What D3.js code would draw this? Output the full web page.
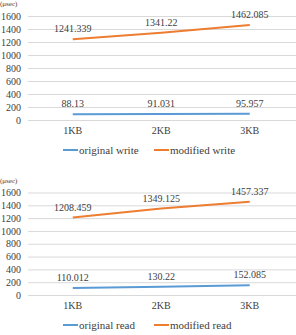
<!DOCTYPE html>
<html>
<head>
<meta charset="utf-8">
<script src="https://cdn.jsdelivr.net/npm/d3@7"></script>
<style>
  body { margin: 0; background: #fff; }
  svg { display: block; }
  text { font-family: 'Liberation Serif', 'Times New Roman', 'DejaVu Serif', serif !important; }
  .tick line { stroke: #d9d9d9; }
  .domain { display: none; }
  .tick text { fill: #404040; }
</style>
</head>
<body>
<div id="chart"></div>
<script>
// Data
const sizes = ["1KB", "2KB", "3KB"];
const yTicks = [0, 200, 400, 600, 800, 1000, 1200, 1400, 1600];
const originalWrite = [88.13, 91.031, 95.957];
const modifiedWrite = [1241.339, 1341.22, 1462.085];
const originalRead = [110.012, 130.22, 152.085];
const modifiedRead = [1208.459, 1349.125, 1457.337];
const unitLabel = "(μsec)";

const panels = [
  { top: 0, yTop: 16, yBottom: 120, names: ["original write", "modified write"], series: [originalWrite, modifiedWrite] },
  { top: 175, yTop: 17.5, yBottom: 120, names: ["original read", "modified read"], series: [originalRead, modifiedRead] },
];
const colors = ["#5b9bd5", "#ed7d31"];

const width = 296, height = 335;
const svg = d3.select("#chart").append("svg").attr("width", width).attr("height", height);

panels.forEach((p) => {
  const g = svg.append("g").attr("transform", `translate(0,${p.top})`);

  const xScale = d3.scaleBand().domain(sizes).range([28.5, 294]);
  const yScale = d3.scaleLinear().domain([0, 1600]).range([p.yBottom, p.yTop]);

  // Gridlines + y labels
  const yAxis = g.append("g")
    .attr("transform", "translate(28,0)")
    .call(d3.axisLeft(yScale).tickValues(yTicks).tickSize(-268).tickPadding(7).tickFormat(d3.format("d")));
  yAxis.attr("font-family", null).attr("font-size", 10);

  // x labels
  const xAxis = g.append("g")
    .attr("transform", `translate(0,${p.yBottom})`)
    .call(d3.axisBottom(xScale).tickSize(0).tickPadding(7));
  xAxis.attr("font-family", null).attr("font-size", 10);

  g.append("text")
    .attr("x", 0).attr("y", p.yTop - 10)
    .attr("fill", "#404040")
    .style("font-size", "7px")
    .text(unitLabel);

  const line = d3.line()
    .x((d, i) => xScale(sizes[i]) + xScale.bandwidth() / 2)
    .y((d) => yScale(d));

  p.series.forEach((s, k) => {
    g.append("path")
      .attr("d", line(s))
      .attr("fill", "none")
      .attr("stroke", colors[k])
      .attr("stroke-width", 2);

    g.selectAll(null).data(s).enter().append("text")
      .attr("x", (d, i) => xScale(sizes[i]) + xScale.bandwidth() / 2)
      .attr("y", (d) => yScale(d) - 7)
      .attr("text-anchor", "middle")
      .attr("fill", "#404040")
      .style("font-size", "10px")
      .text((d) => d);
  });

  // Legend
  const legendX = [63, 154];
  p.names.forEach((name, k) => {
    g.append("line")
      .attr("x1", legendX[k]).attr("x2", legendX[k] + 15)
      .attr("y1", p.yBottom + 30).attr("y2", p.yBottom + 30)
      .attr("stroke", colors[k]).attr("stroke-width", 2);
    g.append("text")
      .attr("x", legendX[k] + 16).attr("y", p.yBottom + 34)
      .attr("fill", "#404040")
      .style("font-size", "11px")
      .text(name);
  });
});
</script>
</body>
</html>
